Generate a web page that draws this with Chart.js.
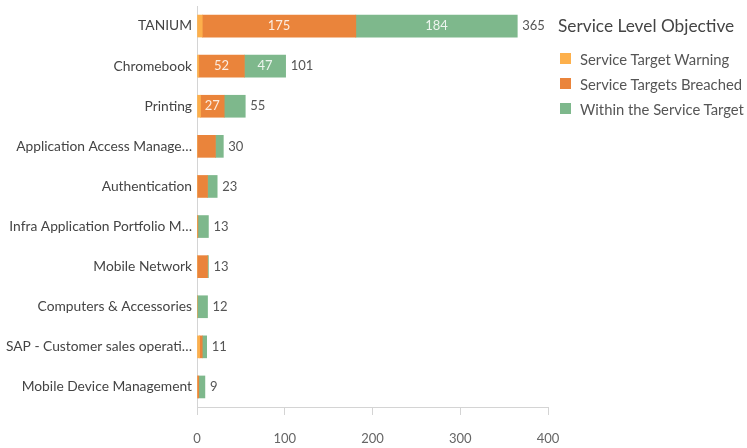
<!DOCTYPE html>
<html>
<head>
<meta charset="utf-8">
<script src="https://cdn.jsdelivr.net/npm/chart.js@4"></script>
<style>
    html, body { margin: 0; padding: 0; background: #fff; }
    .wrap { position: relative; width: 747px; height: 448px; }
    .legend { position: absolute; left: 558px; top: 15px; font-family: Lato, 'Open Sans', sans-serif; color: #555; }
    .legend-title { font-size: 17.3px; color: #444; margin-bottom: 10px; white-space: nowrap; }
    .legend-item { font-size: 14.8px; height: 25px; display: flex; align-items: center; white-space: nowrap; }
    .legend-box { width: 11px; height: 11px; margin: 0 9px 0 2px; }
</style>
</head>
<body>
<div class="wrap">
    <canvas id="sloChart" width="747" height="448"></canvas>
    <div class="legend" id="legend">
        <div class="legend-title">Service Level Objective</div>
    </div>
</div>
<script>
const categories = [
    'TANIUM',
    'Chromebook',
    'Printing',
    'Application Access Manage…',
    'Authentication',
    'Infra Application Portfolio M…',
    'Mobile Network',
    'Computers & Accessories',
    'SAP - Customer sales operati…',
    'Mobile Device Management'
];
const seriesNames = ['Service Target Warning', 'Service Targets Breached', 'Within the Service Target'];
const warningValues = [6, 2, 4, 0, 0, 0, 0, 0, 3, 0];
const breachedValues = [175, 52, 27, 21, 12, 1, 12, 0, 3, 2];
const withinValues = [184, 47, 24, 9, 11, 12, 1, 12, 5, 7];
const totals = [365, 101, 55, 30, 23, 13, 13, 12, 11, 9];
const xTicks = [0, 100, 200, 300, 400];
const seriesColors = ['#fdb04c', '#ea843b', '#7eb88c'];

(function () {
    const FONT = 'Lato';

    const legend = document.getElementById('legend');
    seriesNames.forEach((name, i) => {
        const item = document.createElement('div');
        item.className = 'legend-item';
        item.innerHTML = '<span class="legend-box" style="background:' + seriesColors[i] + '"></span>' + name;
        legend.appendChild(item);
    });

    // values inside segments and totals after each bar
    const valueLabels = {
        id: 'valueLabels',
        afterDatasetsDraw(chart) {
            const ctx = chart.ctx;
            ctx.save();
            ctx.font = '13px ' + FONT;
            ctx.textBaseline = 'middle';
            chart.data.datasets.forEach((ds, di) => {
                const meta = chart.getDatasetMeta(di);
                meta.data.forEach((bar, i) => {
                    const w = Math.abs(bar.x - bar.base);
                    if (w < 22) return;
                    ctx.fillStyle = 'rgba(255,255,255,0.85)';
                    ctx.textAlign = 'center';
                    ctx.fillText(String(ds.data[i]), (bar.x + bar.base) / 2, bar.y);
                });
            });
            const x = chart.scales.x;
            const lastMeta = chart.getDatasetMeta(chart.data.datasets.length - 1);
            ctx.fillStyle = '#555';
            ctx.textAlign = 'left';
            totals.forEach((t, i) => {
                ctx.fillText(String(t), x.getPixelForValue(t) + 5, lastMeta.data[i].y);
            });
            ctx.restore();
        }
    };

    const datasets = [warningValues, breachedValues, withinValues].map((vals, i) => ({
        label: seriesNames[i],
        data: vals,
        backgroundColor: seriesColors[i],
        borderWidth: 0,
        barThickness: 22
    }));

    new Chart(document.getElementById('sloChart'), {
        type: 'bar',
        data: { labels: categories, datasets },
        options: {
            indexAxis: 'y',
            responsive: false,
            animation: false,
            layout: { padding: { top: 6, right: 199, left: 0, bottom: 0 } },
            plugins: {
                legend: { display: false },
                tooltip: { enabled: false }
            },
            scales: {
                x: {
                    stacked: true,
                    min: 0,
                    max: 400,
                    afterBuildTicks: scale => {
                        scale.ticks = xTicks.map(v => ({ value: v }));
                    },
                    afterFit: scale => { scale.height = 41; },
                    border: { display: true, color: '#d4d4d4' },
                    grid: { drawOnChartArea: false, tickLength: 8, color: '#d4d4d4' },
                    ticks: { color: '#666', font: { size: 13, family: FONT }, padding: 16, maxRotation: 0 }
                },
                y: {
                    stacked: true,
                    afterFit: scale => {
                        scale.width = 197;
                        scale.paddingTop = 0;
                        scale.paddingBottom = 0;
                    },
                    border: { display: true, color: '#d4d4d4' },
                    grid: { display: false, drawTicks: false },
                    ticks: { color: '#444', font: { size: 13.8, family: FONT }, padding: 5, autoSkip: false }
                }
            }
        },
        plugins: [valueLabels]
    });
})();
</script>
</body>
</html>
